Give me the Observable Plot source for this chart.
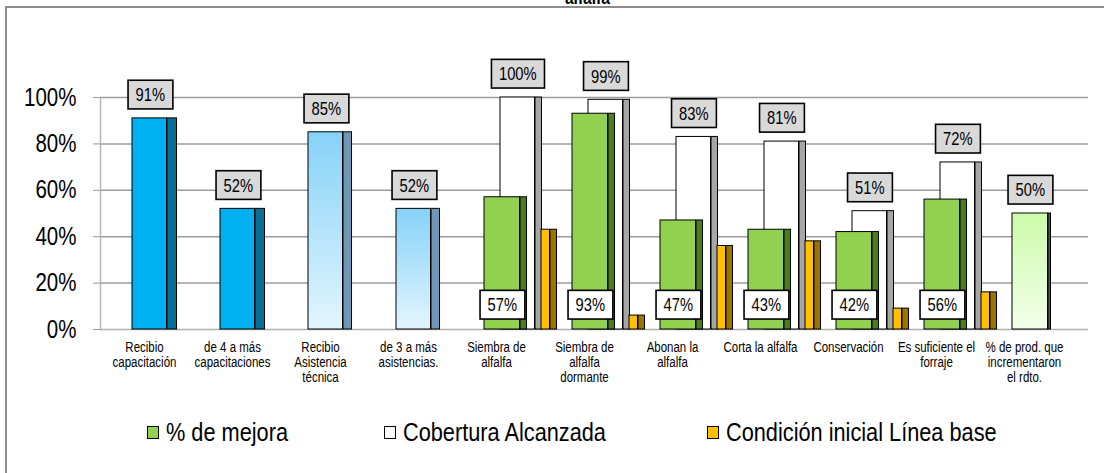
<!DOCTYPE html>
<html>
<head>
<meta charset="utf-8">
<script src="https://cdn.jsdelivr.net/npm/d3@7"></script>
<script src="https://cdn.jsdelivr.net/npm/@observablehq/plot@0.6"></script>
<style>
  body { margin: 0; background: #fff; }
  #wrap { position: relative; width: 1104px; height: 473px; overflow: hidden; background: #fff;
          font-family: 'Liberation Sans', Arial, sans-serif; }
  #chart { position: absolute; left: 0; top: 0; }
  #frame { position: absolute; left: 5px; top: 6px; width: 1200px; height: 600px; border: 2px solid #8c8c8c; pointer-events: none; }
  #title { position: absolute; top: -12px; left: 0; width: 1174px; text-align: center; font-weight: bold; font-size: 19px; line-height: 19px; }
  #title span { display: inline-block; transform: scaleX(0.82); }
  .leg { position: absolute; top: 417px; font-size: 26.5px; line-height: 30px; white-space: nowrap; display: flex; align-items: center; }
  .leg .tx { display: inline-block; transform: scaleX(0.82); transform-origin: 0 50%; }
  .sw { width: 10px; height: 11px; border: 1.5px solid #000; margin-right: 7px; display: inline-block; }
</style>
</head>
<body>
<div id="wrap">
  <div id="chart"></div>
  <div id="title"><span>alfalfa</span></div>
  <div id="legend"></div>
  <div id="frame"></div>
</div>
<script>
// ---- data ----
const categories = [
  "Recibio\ncapacitación",
  "de 4 a más\ncapacitaciones",
  "Recibio\nAsistencia\ntécnica",
  "de 3 a más\nasistencias.",
  "Siembra de\nalfalfa",
  "Siembra de\nalfalfa\ndormante",
  "Abonan la\nalfalfa",
  "Corta la alfalfa",
  "Conservación",
  "Es suficiente el\nforraje",
  "% de prod. que\nincrementaron\nel rdto."
];
const participacion = [91, 52, 85, 52, null, null, null, null, null, null, 50];
const mejora        = [null, null, null, null, 57, 93, 47, 43, 42, 56, null];
const cobertura     = [null, null, null, null, 100, 99, 83, 81, 51, 72, null];
const lineaBase     = [null, null, null, null, 43, 6, 36, 38, 9, 16, null];
const yTicks = [0, 20, 40, 60, 80, 100];
const legendLabels = ["% de mejora", "Cobertura Alcanzada", "Condición inicial Línea base"];

// ---- table ----
const rows = categories.map((label, k) => ({
  k, label, single: participacion[k], mejora: mejora[k], cob: cobertura[k], base: lineaBase[k]
}));
const singleDark = rows.filter(d => d.single != null && d.k < 2);
const singleLight = rows.filter(d => d.single != null && d.k >= 2 && d.k < 4);
const singlePale = rows.filter(d => d.single != null && d.k >= 4);
const grouped = rows.filter(d => d.mejora != null);

const BW = 88.48; // band step in px
function bar3d(data, key, a, b, s, face, side) {
  return [
    Plot.barY(data, {x: "k", y1: 0, y2: key, insetLeft: a, insetRight: BW - b, fill: face, stroke: "#000", strokeWidth: 1}),
    Plot.barY(data, {x: "k", y1: 0, y2: key, insetLeft: b, insetRight: BW - b - s, fill: side, stroke: "#000", strokeWidth: 1})
  ];
}

const defs = () => {
  const d = d3.create("svg:defs");
  const g1 = d.append("linearGradient").attr("id", "gBlue").attr("x1", 0).attr("y1", 0).attr("x2", 0).attr("y2", 1);
  g1.append("stop").attr("offset", "0%").attr("stop-color", "#86D2F8");
  g1.append("stop").attr("offset", "100%").attr("stop-color", "#E3F5FE");
  const g2 = d.append("linearGradient").attr("id", "gGreen").attr("x1", 0).attr("y1", 0).attr("x2", 0).attr("y2", 1);
  g2.append("stop").attr("offset", "0%").attr("stop-color", "#CCFBAA");
  g2.append("stop").attr("offset", "100%").attr("stop-color", "#F2FFEA");
  return d.node();
};

const plot = Plot.plot({
  width: 1104,
  height: 400,
  marginLeft: 100,
  marginRight: 16,
  marginTop: 97,
  marginBottom: 71,
  style: {background: "transparent", fontFamily: "'Liberation Sans', Arial, sans-serif", overflow: "visible"},
  x: {domain: rows.map(d => d.k), range: [97, 1070.3], padding: 0, label: null},
  y: {domain: [0, 100], label: null},
  marks: [
    defs,
    Plot.ruleY(yTicks.filter(t => t > 0), {stroke: "#9c9c9c", strokeWidth: 1.5}),
    Plot.ruleY([0], {stroke: "#b0b0b0", strokeWidth: 1.5}),
    Plot.frame({anchor: "left", stroke: "#b5b5b5", strokeWidth: 1.5}),
    Plot.axisY(yTicks, {label: null, tickFormat: d => d + "%", fontSize: 25, tickSize: 7, tickPadding: 17, stroke: "#999", fill: "#000"}),
    Plot.axisX({label: null, tickFormat: k => categories[k], tickSize: 0, tickPadding: 12, fontSize: 14, lineHeight: 1.07, fill: "#000"}),
    // single bars
    ...bar3d(singleDark, "single", 32, 67, 10, "#00B0F0", "#0A6F98"),
    ...bar3d(singleLight, "single", 32, 67, 9, "url(#gBlue)", "#6E98B5"),
    ...bar3d(singlePale, "single", 32, 68, 3, "url(#gGreen)", "#555"),
    // grouped: cobertura (back), línea base, mejora (front)
    ...bar3d(grouped, "cob", 48, 83, 7, "#fff", "#a6a6a6"),
    ...bar3d(grouped, "base", 89, 98, 7, "#FFC000", "#9C7400"),
    ...bar3d(grouped, "mejora", 32, 68, 7, "#92D050", "#4E7A26"),
    // labels
    Plot.text(rows.filter(d => d.single != null), {x: "k", y: "single", dx: 5.8, dy: -23, text: d => d.single + "%", fontSize: 18, fill: "#000", className: "lbl-grey"}),
    Plot.text(grouped, {x: "k", y: "cob", dx: 21.3, dy: -23, text: d => d.cob + "%", fontSize: 18, fill: "#000", className: "lbl-grey"}),
    Plot.text(grouped, {x: "k", y: 0, dx: 5.8, dy: -24, text: d => d.mejora + "%", fontSize: 18, fill: "#000", className: "lbl-white"})
  ]
});
document.getElementById("chart").appendChild(plot);

// narrow the text horizontally (Arial Narrow look) about each text's anchor (x only)
const SX = 0.82;
d3.select(plot).selectAll("text").each(function() {
  const x = parseFloat(this.getAttribute("x")) || 0;
  const t = this.getAttribute("transform") || "";
  this.setAttribute("transform", `${t} translate(${x},0) scale(${SX},1) translate(${-x},0)`.trim());
});

// label boxes behind texts
const svgRect = plot.getBoundingClientRect();
function boxify(cls, fill) {
  plot.querySelectorAll(`g.${cls}`).forEach(g => {
    const bg = document.createElementNS("http://www.w3.org/2000/svg", "g");
    g.parentNode.insertBefore(bg, g);
    g.querySelectorAll("text").forEach(txt => {
      const b = txt.getBoundingClientRect();
      const r = document.createElementNS("http://www.w3.org/2000/svg", "rect");
      r.setAttribute("x", b.left - svgRect.left - 7.5);
      r.setAttribute("y", b.top - svgRect.top - 4.5);
      r.setAttribute("width", b.width + 15);
      r.setAttribute("height", b.height + 9);
      r.setAttribute("fill", fill);
      r.setAttribute("stroke", "#000");
      r.setAttribute("stroke-width", 1.6);
      bg.appendChild(r);
    });
  });
}
boxify("lbl-grey", "#D9D9D9");
boxify("lbl-white", "#FFFFFF");

// legend
const legColors = ["#92D050", "#FFFFFF", "#FFC000"];
const legLeft = [147, 384, 707];
const leg = document.getElementById("legend");
legendLabels.forEach((t, k) => {
  const item = document.createElement("div");
  item.className = "leg";
  item.style.left = legLeft[k] + "px";
  const sw = document.createElement("span");
  sw.className = "sw";
  sw.style.background = legColors[k];
  item.appendChild(sw);
  const tx = document.createElement("span");
  tx.className = "tx";
  tx.textContent = t;
  item.appendChild(tx);
  leg.appendChild(item);
});
</script>
</body>
</html>
